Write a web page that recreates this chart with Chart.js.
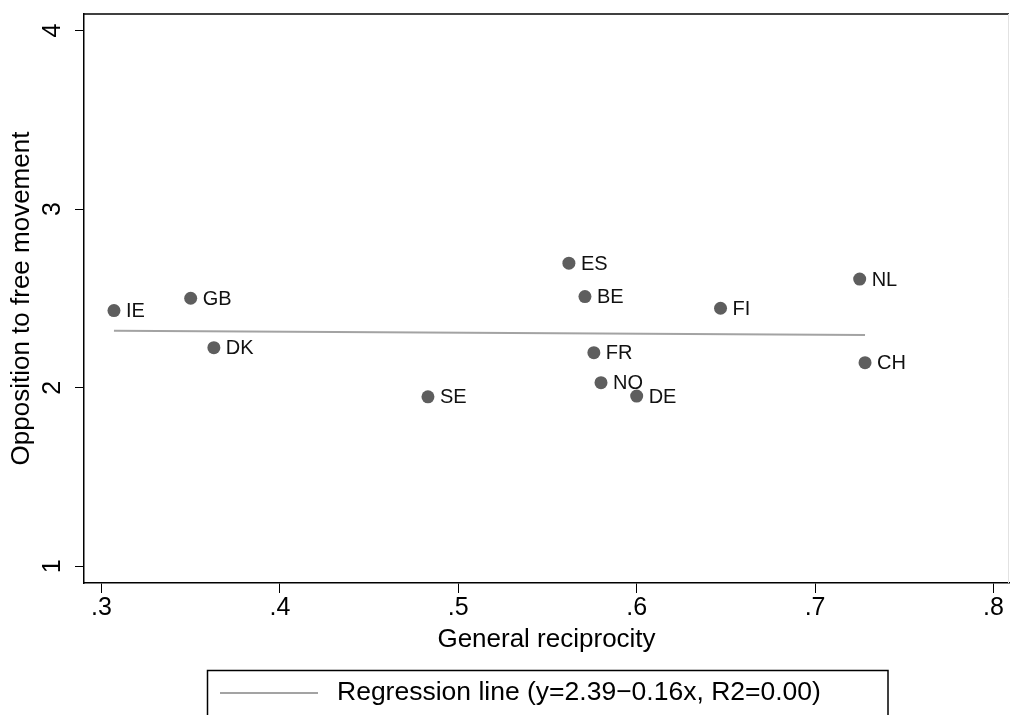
<!DOCTYPE html>
<html>
<head>
<meta charset="utf-8">
<script src="https://cdn.jsdelivr.net/npm/chart.js@4.4.1/dist/chart.umd.min.js"></script>
<style>
    html, body { margin: 0; padding: 0; background: #fff; }
    #wrap { width: 1010px; height: 715px; }
</style>
</head>
<body>
<div id="wrap"><canvas id="chart" width="1010" height="715"></canvas></div>
<script>
const countries = ['IE', 'GB', 'DK', 'SE', 'ES', 'BE', 'FR', 'NO', 'DE', 'FI', 'NL', 'CH'];
const reciprocity = [0.307, 0.350, 0.363, 0.483, 0.562, 0.571, 0.576, 0.580, 0.600, 0.647, 0.725, 0.728];
const opposition = [2.432, 2.501, 2.224, 1.949, 2.697, 2.510, 2.196, 2.028, 1.953, 2.445, 2.608, 2.140];
const fitX = [0.307, 0.728];
const fitY = [2.319, 2.295];
const fitLabel = 'Regression line (y=2.39\u22120.16x, R2=0.00)';
const xTicks = [0.3, 0.4, 0.5, 0.6, 0.7, 0.8];
const yTicks = [1, 2, 3, 4];
const xRange = [0.2902, 0.8087];
const yRange = [0.9064, 4.0925];

const FONT = '"Liberation Sans", Arial, Helvetica, sans-serif';

const points = reciprocity.map((x, i) => ({x: x, y: opposition[i]}));
const fitLine = fitX.map((x, i) => ({x: x, y: fitY[i]}));

// country codes next to each dot
const pointLabels = {
    id: 'pointLabels',
    afterDatasetsDraw(chart) {
        const meta = chart.getDatasetMeta(0);
        const ctx = chart.ctx;
        ctx.save();
        ctx.font = '20px ' + FONT;
        ctx.fillStyle = '#111';
        ctx.textBaseline = 'middle';
        meta.data.forEach((pt, i) => {
            ctx.fillText(countries[i], pt.x + 12, pt.y + 1);
        });
        ctx.restore();
    }
};

// top frame line + boxed legend like stata
const frameAndLegend = {
    id: 'frameAndLegend',
    afterDraw(chart) {
        const ctx = chart.ctx;
        const area = chart.chartArea;
        const ds = chart.data.datasets[1];
        ctx.save();
        ctx.strokeStyle = '#000';
        ctx.lineWidth = 1.5;
        ctx.beginPath();
        ctx.moveTo(area.left, area.top);
        ctx.lineTo(area.right, area.top);
        ctx.stroke();

        ctx.strokeStyle = '#e2e2e2';
        ctx.lineWidth = 1;
        ctx.beginPath();
        ctx.moveTo(area.right - 0.5, area.top);
        ctx.lineTo(area.right - 0.5, area.bottom);
        ctx.stroke();

        ctx.strokeStyle = '#000';
        ctx.lineWidth = 1.5;
        ctx.strokeRect(207.5, 670.5, 680.5, 80);

        ctx.strokeStyle = ds.borderColor;
        ctx.lineWidth = ds.borderWidth;
        ctx.beginPath();
        ctx.moveTo(220, 693);
        ctx.lineTo(318, 693);
        ctx.stroke();

        ctx.font = '26.5px ' + FONT;
        ctx.fillStyle = '#000';
        ctx.textBaseline = 'middle';
        ctx.fillText(ds.label, 337, 693);
        ctx.restore();
    }
};

function noScalePadding(scale) {
    scale.paddingTop = 0;
    scale.paddingBottom = 0;
    scale.paddingLeft = 0;
    scale.paddingRight = 0;
}

const ctx = document.getElementById('chart').getContext('2d');
const chart = new Chart(ctx, {
    type: 'scatter',
    data: {
        datasets: [{
            label: 'Countries',
            data: points,
            backgroundColor: '#5e5e5e',
            borderWidth: 0,
            pointRadius: 6.5,
            pointHoverRadius: 6.5
        }, {
            type: 'line',
            label: fitLabel,
            data: fitLine,
            borderColor: '#a3a3a3',
            borderWidth: 2,
            pointRadius: 0,
            fill: false,
            tension: 0
        }]
    },
    options: {
        responsive: false,
        animation: false,
        layout: {
            autoPadding: false,
            padding: {left: 0, top: 14, right: 1, bottom: 44}
        },
        plugins: {
            legend: {display: false},
            tooltip: {enabled: false}
        },
        scales: {
            x: {
                type: 'linear',
                min: xRange[0],
                max: xRange[1],
                afterBuildTicks: (scale) => {
                    scale.ticks = xTicks.map(v => ({value: v}));
                },
                afterFit: (scale) => {
                    scale.height = 88;
                    noScalePadding(scale);
                },
                ticks: {
                    color: '#000',
                    font: {family: FONT, size: 25},
                    padding: 0,
                    maxRotation: 0,
                    callback: (v) => String(v).replace(/^0/, '')
                },
                grid: {
                    drawOnChartArea: false,
                    drawTicks: true,
                    tickLength: 10,
                    color: '#000',
                    lineWidth: 1
                },
                border: {display: true, color: '#000', width: 1.5},
                title: {
                    display: true,
                    text: 'General reciprocity',
                    color: '#000',
                    font: {family: FONT, size: 26},
                    padding: {top: 0, bottom: 16}
                }
            },
            y: {
                type: 'linear',
                min: yRange[0],
                max: yRange[1],
                afterBuildTicks: (scale) => {
                    scale.ticks = yTicks.map(v => ({value: v}));
                },
                afterFit: (scale) => {
                    scale.width = 84;
                    noScalePadding(scale);
                },
                ticks: {
                    color: '#000',
                    font: {family: FONT, size: 25},
                    minRotation: 90,
                    maxRotation: 90,
                    crossAlign: 'center',
                    padding: 15,
                    callback: (v) => String(v)
                },
                grid: {
                    drawOnChartArea: false,
                    drawTicks: true,
                    tickLength: 9,
                    color: '#000',
                    lineWidth: 1
                },
                border: {display: true, color: '#000', width: 1.5},
                title: {
                    display: true,
                    text: 'Opposition to free movement',
                    color: '#000',
                    font: {family: FONT, size: 26},
                    padding: {top: 6, bottom: 0}
                }
            }
        }
    },
    plugins: [pointLabels, frameAndLegend]
});
</script>
</body>
</html>
